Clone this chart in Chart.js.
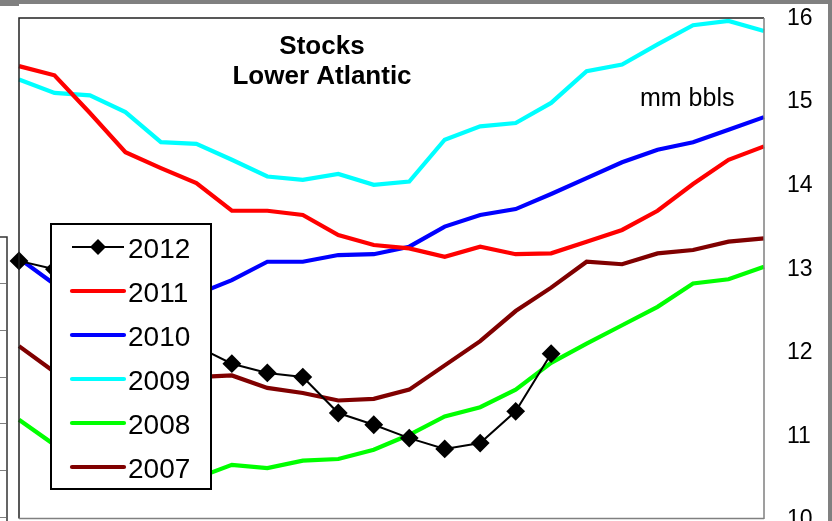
<!DOCTYPE html>
<html>
<head>
<meta charset="utf-8">
<script src="https://cdn.jsdelivr.net/npm/chart.js@4.4.0/dist/chart.umd.min.js"></script>
<style>
  html, body { margin: 0; padding: 0; background: #fff; overflow: hidden; }
  #wrap { position: relative; width: 832px; height: 521px; overflow: hidden; }
</style>
</head>
<body>
<div id="wrap"><canvas id="stocksChart" width="832" height="545" style="width:832px;height:545px"></canvas></div>
<script>
// weeks shown (x axis is not drawn in the picture)
var weeks = ["1", "2", "3", "4", "5", "6", "7", "8", "9", "10", "11",
             "12", "13", "14", "15", "16", "17", "18", "19", "20", "21", "22"];

var y2012 = [13.10, 13.00, 12.75, 12.51, 12.27, 12.08, 11.87, 11.76, 11.71, 11.28, 11.14,
             10.98, 10.85, 10.92, 11.30, 11.99, null, null, null, null, null, null];
var y2011 = [15.43, 15.32, 14.87, 14.40, 14.21, 14.03, 13.70, 13.70, 13.65, 13.41, 13.29,
             13.25, 13.15, 13.27, 13.18, 13.19, 13.33, 13.47, 13.70, 14.02, 14.31, 14.47];
var y2010 = [13.13, 12.82, 12.75, 12.72, 12.69, 12.70, 12.87, 13.09, 13.09, 13.17, 13.18,
             13.27, 13.51, 13.65, 13.72, 13.90, 14.09, 14.28, 14.43, 14.52, 14.67, 14.82];
var y2009 = [15.27, 15.11, 15.08, 14.88, 14.52, 14.50, 14.31, 14.11, 14.07, 14.14, 14.01,
             14.05, 14.55, 14.71, 14.75, 14.99, 15.37, 15.45, 15.69, 15.92, 15.97, 15.85];
var y2008 = [11.20, 10.90, 10.74, 10.62, 10.55, 10.50, 10.66, 10.62, 10.71, 10.73, 10.84,
             11.02, 11.24, 11.35, 11.56, 11.88, 12.11, 12.33, 12.55, 12.83, 12.88, 13.03];
var y2007 = [12.08, 11.77, 11.70, 11.67, 11.69, 11.71, 11.73, 11.58, 11.52, 11.43, 11.45,
             11.56, 11.85, 12.14, 12.50, 12.78, 13.09, 13.06, 13.19, 13.23, 13.33, 13.37];

var seriesNames = ["2012", "2011", "2010", "2009", "2008", "2007"];
var seriesColors = ["#000000", "#ff0000", "#0000ff", "#00ffff", "#00ff00", "#800000"];

var FONT = "'Liberation Sans', Arial, sans-serif";

function serie(i, data) {
  var first = i == 0;
  return {
    label: seriesNames[i],
    data: data,
    borderColor: seriesColors[i],
    backgroundColor: seriesColors[i],
    borderWidth: first ? 2 : 4.2,
    pointStyle: "rectRot",
    pointRadius: first ? 8 : 0,
    pointHoverRadius: first ? 8 : 0,
    tension: 0,
    clip: false,
    spanGaps: false
  };
}

// frame, title, unit label and legend box drawn on the canvas
var decor = {
  id: "decor",
  beforeDraw: function (chart) {
    var ctx = chart.ctx;
    ctx.save();
    ctx.fillStyle = "#fff";
    ctx.fillRect(0, 0, chart.width, chart.height);
    ctx.restore();
  },
  afterDraw: function (chart) {
    var ctx = chart.ctx;
    var a = chart.chartArea;
    ctx.save();

    // plot border
    ctx.lineWidth = 1.5;
    ctx.strokeStyle = "#222";
    ctx.beginPath();
    ctx.moveTo(a.left, 518.5);
    ctx.lineTo(a.left, a.top - 0.5);
    ctx.lineTo(a.right, a.top - 0.5);
    ctx.stroke();
    ctx.strokeStyle = "#808080";
    ctx.beginPath();
    ctx.moveTo(a.right, a.top - 0.5);
    ctx.lineTo(a.right, 519);
    ctx.moveTo(a.left, 518.5);
    ctx.lineTo(a.right, 518.5);
    ctx.stroke();

    // outer gray frame
    ctx.fillStyle = "#808080";
    ctx.fillRect(0, 0, 832, 4);
    ctx.fillRect(0, 0, 19, 6);
    ctx.fillRect(828, 0, 4, 521);

    // piece of the neighbouring chart at the far left
    ctx.strokeStyle = "#333";
    ctx.lineWidth = 1.5;
    ctx.beginPath();
    ctx.moveTo(0, 237);
    ctx.lineTo(7, 237);
    ctx.lineTo(7, 521);
    ctx.stroke();
    ctx.strokeStyle = "#808080";
    ctx.lineWidth = 1;
    [283, 330, 377, 423, 470, 517].forEach(function (t) {
      ctx.beginPath();
      ctx.moveTo(0, t + 0.5);
      ctx.lineTo(6, t + 0.5);
      ctx.stroke();
    });

    // title
    ctx.fillStyle = "#000";
    ctx.textAlign = "center";
    ctx.textBaseline = "alphabetic";
    ctx.font = "bold 26px " + FONT;
    ctx.fillText("Stocks", 322, 54);
    ctx.fillText("Lower Atlantic", 322, 84);

    ctx.textAlign = "left";
    ctx.font = "25px " + FONT;
    ctx.fillText("mm bbls", 640, 106);

    // legend
    ctx.fillStyle = "#fff";
    ctx.fillRect(51, 224, 160, 265);
    ctx.strokeStyle = "#000";
    ctx.lineWidth = 2;
    ctx.strokeRect(51, 224, 160, 265);
    ctx.font = "28px " + FONT;
    for (var i = 0; i < seriesNames.length; i++) {
      var ly = 247 + i * 44;
      ctx.strokeStyle = seriesColors[i];
      ctx.lineWidth = i == 0 ? 2 : 4.2;
      ctx.lineCap = i == 0 ? "butt" : "round";
      ctx.beginPath();
      ctx.moveTo(72, ly);
      ctx.lineTo(124, ly);
      ctx.stroke();
      if (i == 0) {
        ctx.fillStyle = "#000";
        ctx.beginPath();
        ctx.moveTo(98, ly - 8);
        ctx.lineTo(106, ly);
        ctx.lineTo(98, ly + 8);
        ctx.lineTo(90, ly);
        ctx.closePath();
        ctx.fill();
      }
      ctx.fillStyle = "#000";
      ctx.fillText(seriesNames[i], 128, ly + 10.5);
    }
    ctx.restore();
  }
};

new Chart(document.getElementById("stocksChart"), {
  type: "line",
  data: {
    labels: weeks,
    datasets: [
      serie(0, y2012),
      serie(1, y2011),
      serie(2, y2010),
      serie(3, y2009),
      serie(4, y2008),
      serie(5, y2007)
    ]
  },
  options: {
    responsive: false,
    animation: false,
    devicePixelRatio: 1,
    layout: { padding: { left: 19, top: 18.5, right: 4, bottom: 25 } },
    plugins: {
      legend: { display: false },
      title: { display: false },
      tooltip: { enabled: false }
    },
    scales: {
      x: { type: "category", display: false, offset: false },
      y: {
        position: "right",
        min: 10,
        max: 16,
        ticks: {
          stepSize: 1,
          padding: 23,
          color: "#000",
          font: { family: FONT, size: 23 }
        },
        grid: { display: false, drawTicks: false },
        border: { display: false },
        afterFit: function (s) {
          s.width = 64;
          s.paddingTop = 0;
          s.paddingBottom = 0;
        }
      }
    }
  },
  plugins: [decor]
});
</script>
</body>
</html>
